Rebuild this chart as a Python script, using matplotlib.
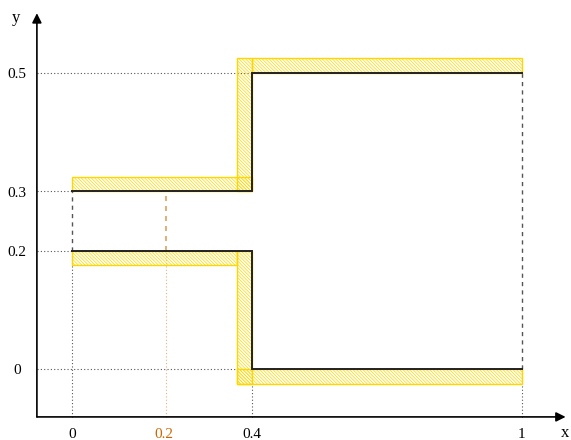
import matplotlib.pyplot as plt
from matplotlib.patches import Rectangle

# step values of the two paths
x_left, x_step, x_right = 0.0, 0.4, 1.0
upper_y = [0.3, 0.5]
lower_y = [0.2, 0.0]
x_mark = 0.21          # orange mark, labelled 0.2
x_ticks = [0.0, 0.4, 1.0]
x_tick_labels = ['0', '0.4', '1']
y_ticks = [0.0, 0.2, 0.3, 0.5]
y_tick_labels = ['0', '0.2', '0.3', '0.5']

band_h = 0.025   # band thickness in y units
band_w = 0.033   # band thickness in x units

plt.rcParams['hatch.linewidth'] = 0.5
plt.rcParams['hatch.color'] = '#ffdc40'

fig = plt.figure(figsize=(5.71, 4.40), dpi=100)
ax = fig.add_axes([0, 0, 1, 1])
ax.set_xlim(-0.16, 1.109)
ax.set_ylim(-0.12, 0.6233)
ax.axis('off')

serif = 'Liberation Serif'
y_axis_x = -0.078
x_axis_y = -0.081

# axes with arrows
ax.annotate('', xy=(1.097, x_axis_y), xytext=(y_axis_x, x_axis_y),
            arrowprops=dict(arrowstyle='-|>', color='black', lw=1.2,
                            mutation_scale=14, shrinkA=0, shrinkB=0))
ax.annotate('', xy=(y_axis_x, 0.601), xytext=(y_axis_x, x_axis_y),
            arrowprops=dict(arrowstyle='-|>', color='black', lw=1.2,
                            mutation_scale=14, shrinkA=0, shrinkB=0))
ax.text(1.095, x_axis_y - 0.027, 'x', fontsize=12, family=serif,
        ha='center', va='center')
ax.text(y_axis_x - 0.047, 0.593, 'y', fontsize=12, family=serif,
        ha='center', va='center')

# hatched bands (x0, y0, w, h)
bands = [
    (x_left, upper_y[0], x_step - x_left, band_h),
    (x_step - band_w, upper_y[0], band_w, upper_y[1] + band_h - upper_y[0]),
    (x_step, upper_y[1], x_right - x_step, band_h),
    (x_left, lower_y[0] - band_h, x_step - band_w - x_left, band_h),
    (x_step - band_w, lower_y[1] - band_h, band_w, lower_y[0] - lower_y[1] + band_h),
    (x_step - band_w, lower_y[1] - band_h, x_right - x_step + band_w, band_h),
]
for x0, y0, w, h in bands:
    ax.add_patch(Rectangle((x0, y0), w, h, facecolor='none',
                           edgecolor='#ffd700', hatch='\\' * 10, lw=1.0,
                           zorder=2))

# grey dotted guide lines
dot = dict(color='#555555', lw=0.8, ls=(0, (1, 2)), zorder=1)
ax.plot([y_axis_x, x_left], [upper_y[0]] * 2, **dot)
ax.plot([y_axis_x, x_left], [lower_y[0]] * 2, **dot)
ax.plot([y_axis_x, x_step], [upper_y[1]] * 2, **dot)
ax.plot([y_axis_x, x_step], [lower_y[1]] * 2, **dot)
ax.plot([x_left, x_left], [x_axis_y, lower_y[0]], **dot)
ax.plot([x_step, x_step], [x_axis_y, lower_y[1]], **dot)
ax.plot([x_right, x_right], [x_axis_y, lower_y[1]], **dot)

dash = dict(color='#555555', lw=1.0, ls=(0, (3, 3)), zorder=1)
ax.plot([x_left, x_left], [lower_y[0], upper_y[0]], **dash)
ax.plot([x_right, x_right], [lower_y[1], upper_y[1]], **dash)

# orange mark
ax.plot([x_mark, x_mark], [lower_y[0], upper_y[0]], color='#e0a060',
        lw=1.2, ls=(0, (3, 3)), zorder=1)
ax.plot([x_mark, x_mark], [x_axis_y, lower_y[0]], color='#eab080',
        lw=0.8, ls=(0, (1, 2)), zorder=1)

# black step paths
path = dict(color='#222222', lw=1.4, zorder=3, solid_joinstyle='miter')
ax.plot([x_left, x_step, x_step, x_right],
        [upper_y[0], upper_y[0], upper_y[1], upper_y[1]], **path)
ax.plot([x_left, x_step, x_step, x_right],
        [lower_y[0], lower_y[0], lower_y[1], lower_y[1]], **path)

# tick labels
label_y = x_axis_y - 0.029
for xv, lab in zip(x_ticks, x_tick_labels):
    ax.text(xv, label_y, lab, fontsize=11, family=serif,
            ha='center', va='center')
ax.text(x_mark - 0.005, label_y, '0.2', fontsize=11, family=serif,
        ha='center', va='center', color='#cc6600')
for yv, lab in zip(y_ticks, y_tick_labels):
    ax.text(-0.122, yv - 0.003, lab, fontsize=11, family=serif,
            ha='center', va='center')

fig.savefig('out.png', dpi=100)
